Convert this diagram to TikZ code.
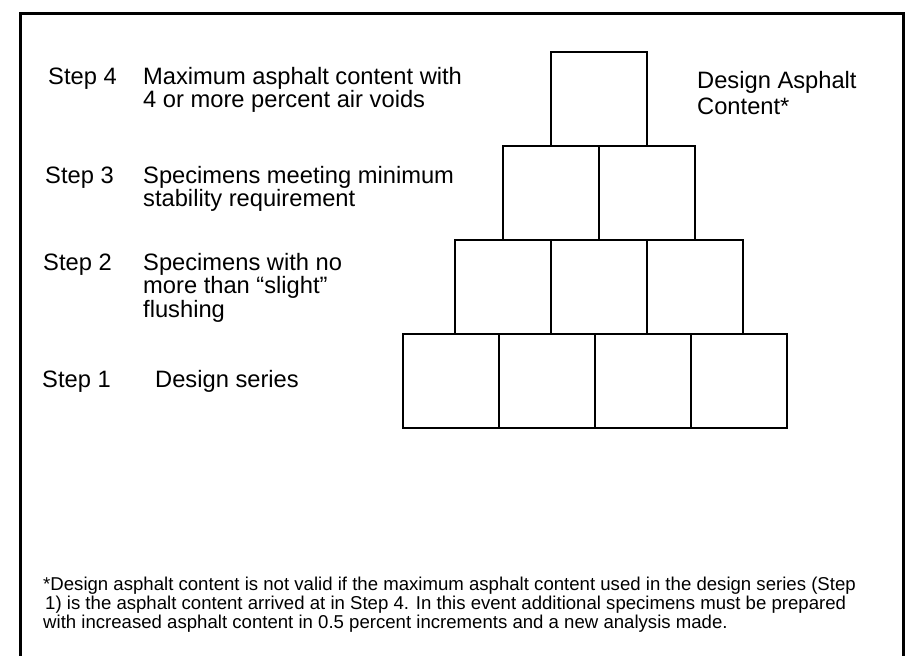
\documentclass[tikz,border=0pt]{standalone}
\usepackage{fontspec}
\setmainfont{Liberation Sans}
\usetikzlibrary{positioning}
\tikzset{
  % one specimen in the pyramid
  blk/.style={rectangle,draw=black,line width=2.4pt,
    minimum width=96pt,minimum height=94pt,
    inner sep=0pt,outer sep=0pt},
  % step number on the left
  steplbl/.style={anchor=base west,inner sep=0pt,
    font=\fontsize{23.7}{23.5}\selectfont},
  % text next to the step number (anchored on its last line)
  desc/.style={anchor=base west,inner sep=0pt,align=left,
    font=\fontsize{23.7}{23.5}\selectfont},
  % footnote at the bottom
  note/.style={anchor=base west,inner sep=0pt,align=left,
    font=\fontsize{18.6}{19.2}\selectfont},
  % open outer frame
  framebox/.style={line width=3pt},
}
\begin{document}
\begin{tikzpicture}[x=1pt,y=-1pt]
  \useasboundingbox (0,0) rectangle (906,656);
  \draw[framebox] (20,656) -- (20,13) -- (903,13) -- (903,656);

  %% --- PYRAMID ---
  % step 1: design series
  \node[blk] (r1a) at (451,381) {};
  \node[blk,right=0pt of r1a] (r1b) {};
  \node[blk,right=0pt of r1b] (r1c) {};
  \node[blk,right=0pt of r1c] (r1d) {};
  % step 2
  \node[blk] (r2a) at (503,287) {};
  \node[blk,right=0pt of r2a] (r2b) {};
  \node[blk,right=0pt of r2b] (r2c) {};
  % step 3
  \node[blk] (r3a) at (551,193) {};
  \node[blk,right=0pt of r3a] (r3b) {};
  % step 4
  \node[blk] (r4a) at (599,99) {};

  %% --- STEPS ---
  \node[steplbl] (s4) at (48,84) {Step 4};
  \node[desc] (d4) at (143,107.5)
    {Maximum asphalt content with\\4 or more percent air voids};
  \node[steplbl] (s3) at (45,183) {Step 3};
  \node[desc] (d3) at (143,206.5)
    {Specimens meeting minimum\\stability requirement};
  \node[steplbl] (s2) at (43,270) {Step 2};
  \node[desc] (d2) at (143,317)
    {Specimens with no\\more than “slight”\\flushing};
  \node[steplbl] (s1) at (42,387) {Step 1};
  \node[desc] (d1) at (155,387) {Design series};

  \node[desc,font=\fontsize{23.7}{26.5}\selectfont] (dac) at (697,114.5)
    {Design Asphalt\\Content*};

  %% --- FOOTNOTE ---
  \node[note] (fn) at (43,628.4)
    {*Design asphalt content is not valid if the maximum asphalt content used in the design series (Step\\
     \hspace{2pt}1) is the asphalt content arrived at in Step 4. In this event additional specimens must be prepared\\
     with increased asphalt content in 0.5 percent increments and a new analysis made.};
\end{tikzpicture}
\end{document}
